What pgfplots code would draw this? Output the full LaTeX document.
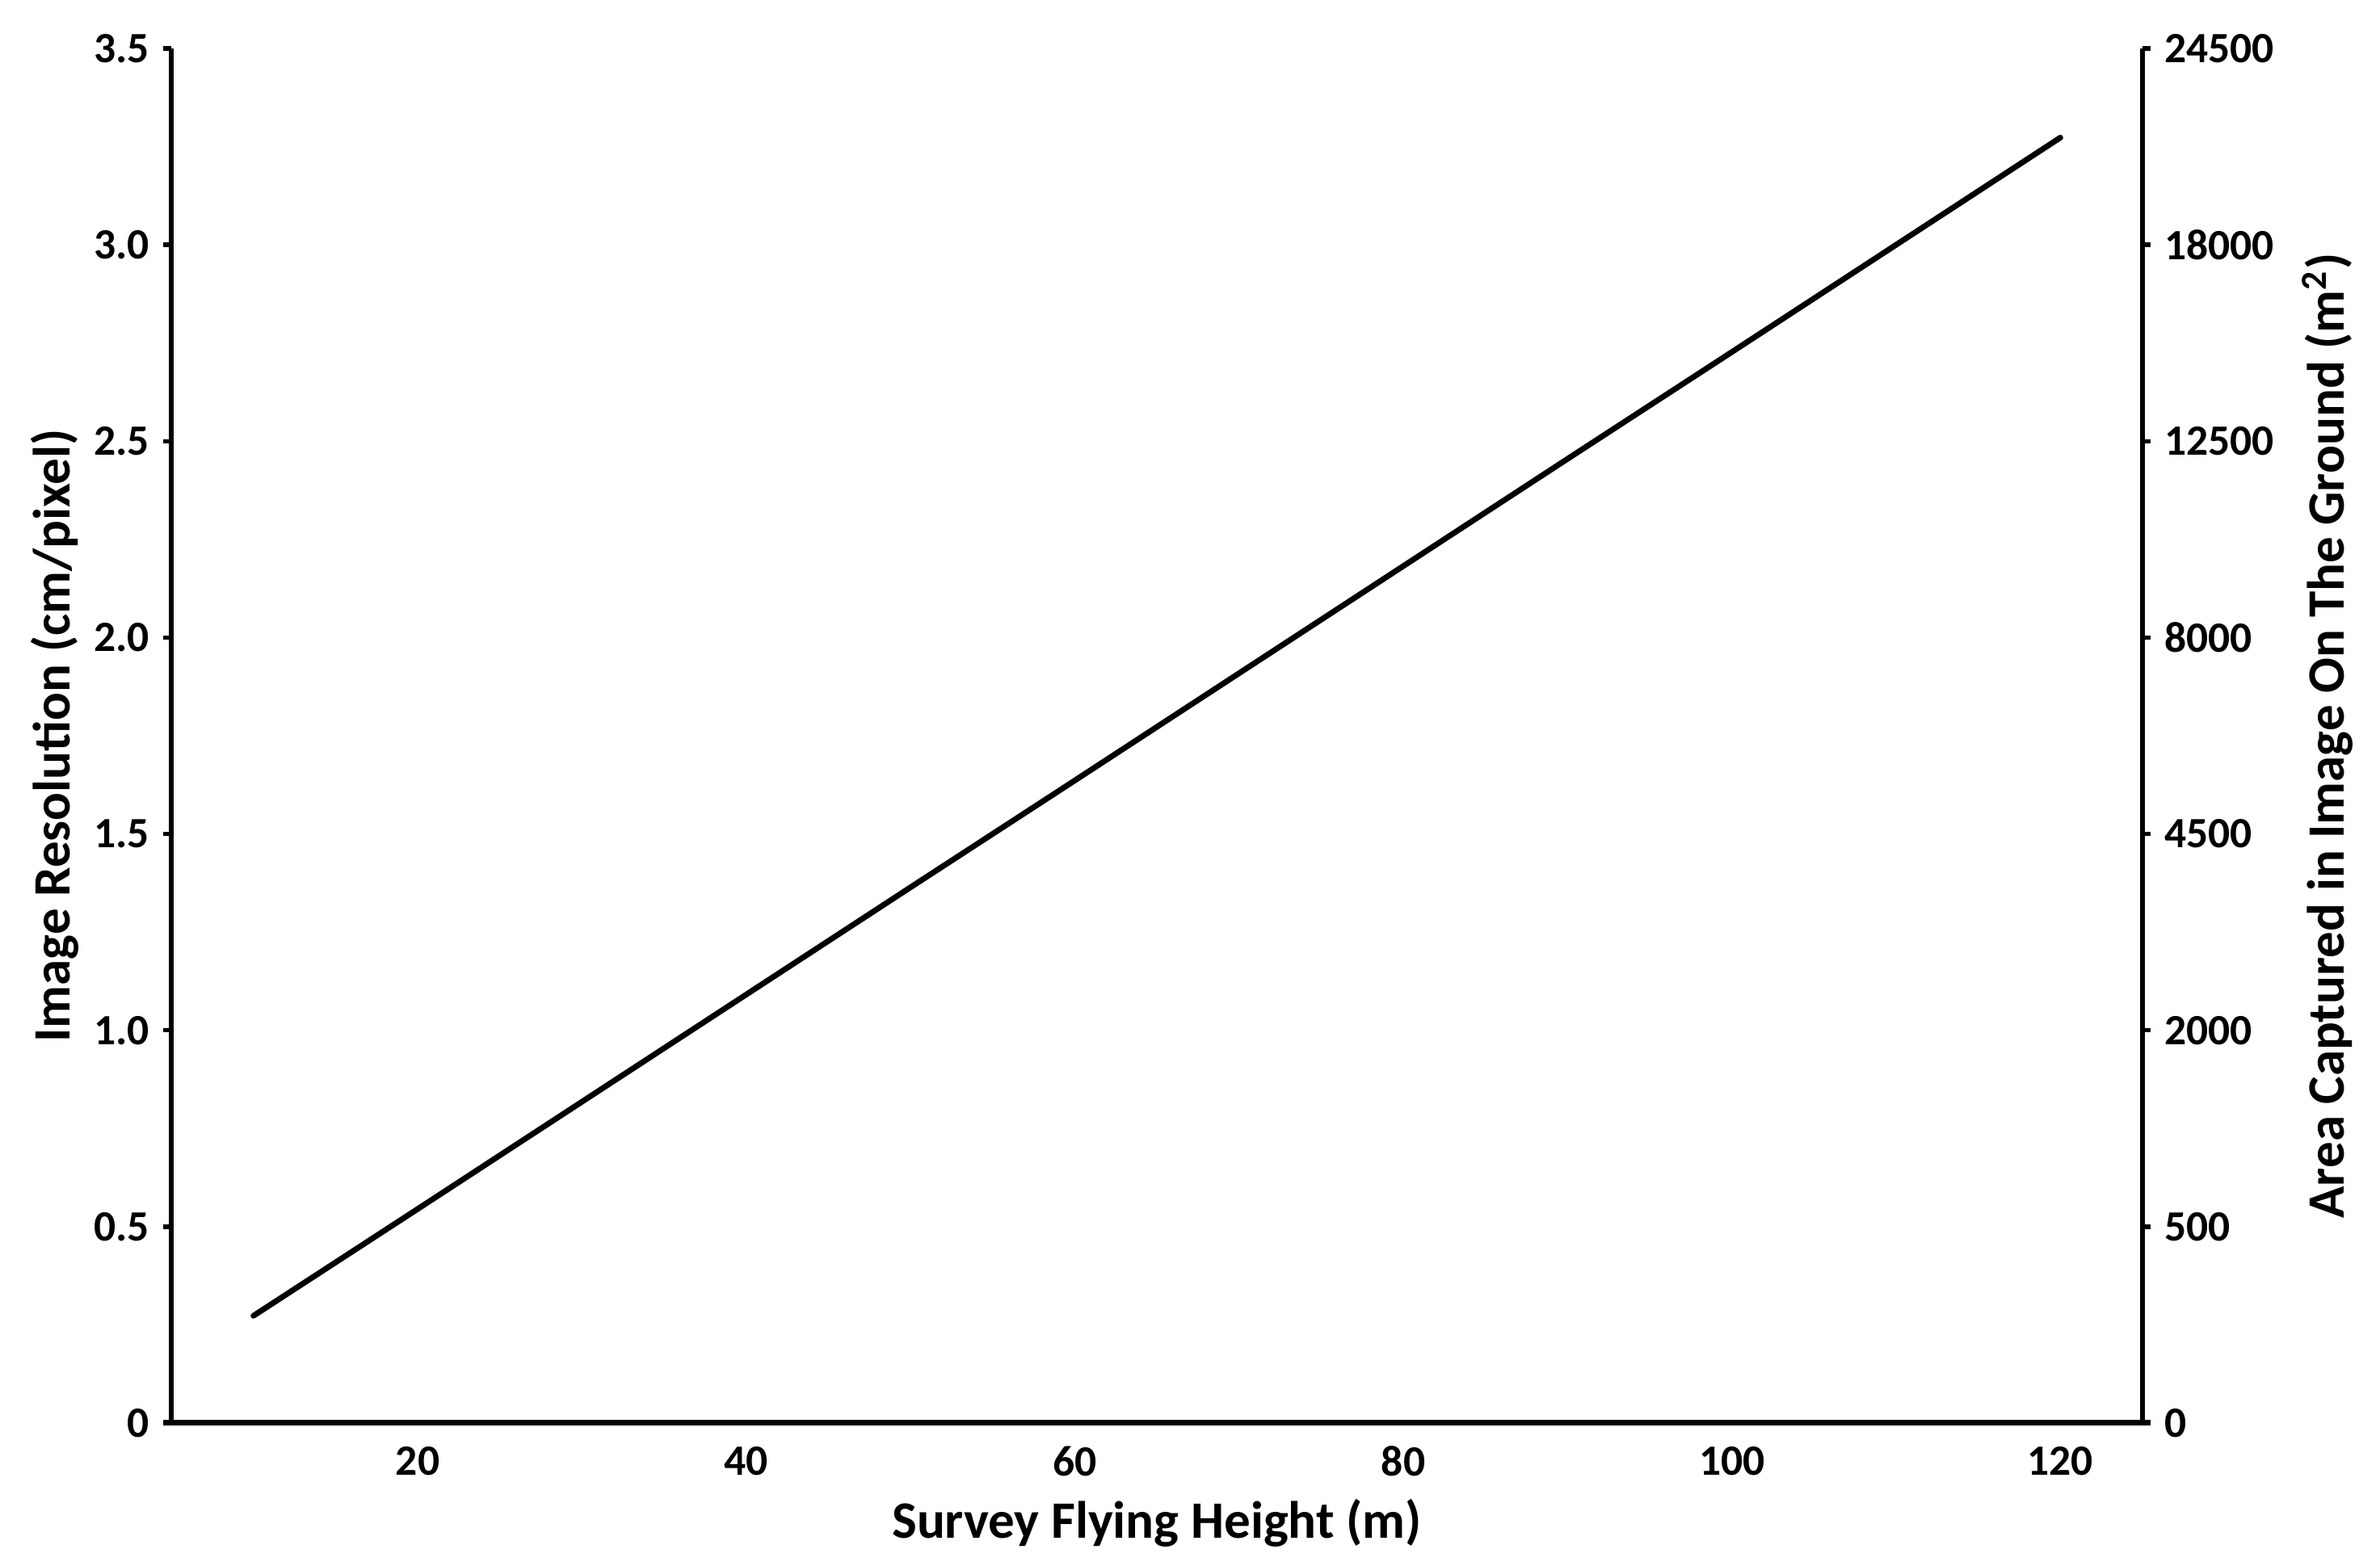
\documentclass[border=0pt]{standalone}
\usepackage{fontspec}
\setmainfont{Carlito}
\usepackage{pgfplots}
\pgfplotsset{compat=1.18}
\begin{document}
\begin{tikzpicture}
\pgfplotsset{
 common/.style={scale only axis, width=488pt, height=340.4pt,
  xmin=5, xmax=125, ymin=0, ymax=3.5,
  ytick={0,0.5,...,3.5}, tick align=outside, major tick length=1.9pt,
  tick style={black, line width=1.1pt},
  ticklabel style={font=\fontsize{10.7}{12}\selectfont\bfseries},
  label style={font=\fontsize{13}{15}\selectfont\bfseries},
  /pgf/number format/assume math mode=true,
  clip=false}
}
\begin{axis}[common, axis x line*=bottom, axis y line*=left,
 xtick={20,40,...,120}, xtick style={draw=none},
 yticklabels={0,0.5,1.0,1.5,2.0,2.5,3.0,3.5},
 x axis line style={line width=1.4pt, shorten <=-2pt, shorten >=-2pt},
 y axis line style={line width=1.1pt},
 xlabel={Survey Flying Height (m)}, ylabel={Image Resolution (cm/pixel)},
 xlabel style={at={(axis description cs:0.5,-0.0729)}, anchor=center},
 ylabel style={at={(axis description cs:-0.059,0.5)}, anchor=center, rotate=0},
 xticklabel style={anchor=center, yshift=-7.6pt}
]
\addplot[black, line width=1.4pt, line cap=round, line join=round] coordinates {
(10,0.273) (20,0.545) (30,0.818) (40,1.091) (50,1.364) (60,1.636)
(70,1.909) (80,2.182) (90,2.455) (100,2.727) (110,3.000) (120,3.273)};
\end{axis}
\begin{axis}[common, axis x line=none, axis y line*=right,
 yticklabels={0,500,2000,4500,8000,12500,18000,24500},
 y axis line style={line width=1.1pt},
 ylabel={Area Captured in Image On The Ground (m\textsuperscript{2})},
 ylabel style={at={(axis description cs:1.094,0.5)}, anchor=center}
]
\end{axis}
\pgfresetboundingbox
\path (current axis.south west) ++(-42.4pt,-35.4pt) rectangle ([shift={(58.8pt,12pt)}]current axis.north east);
\end{tikzpicture}
\end{document}
